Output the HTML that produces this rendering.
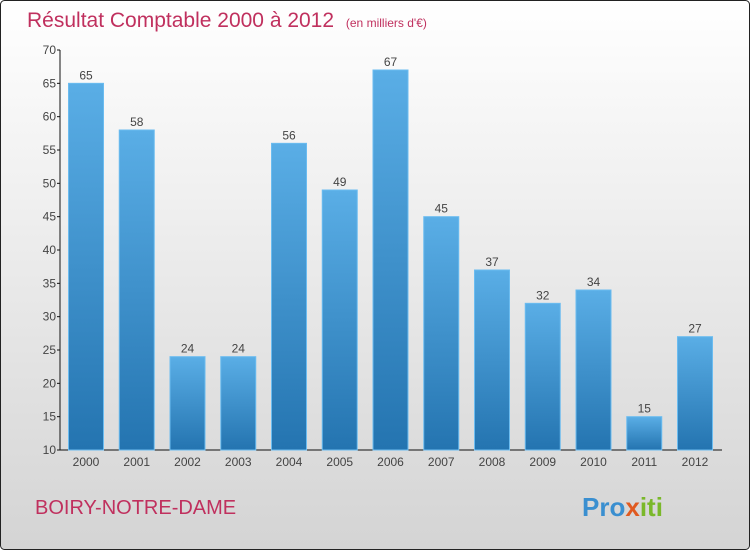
<!DOCTYPE html>
<html><head><meta charset="utf-8"><style>
body{margin:0}
#c{width:750px;height:550px;position:relative;font-family:"Liberation Sans",sans-serif}
</style></head><body>
<div id="c">
<svg width="750" height="550" xmlns="http://www.w3.org/2000/svg">
<defs>
<linearGradient id="bg" x1="0" y1="0" x2="0" y2="1"><stop offset="0" stop-color="#ffffff"/><stop offset="1" stop-color="#d4d4d4"/></linearGradient>
<linearGradient id="bar" x1="0" y1="0" x2="0" y2="1"><stop offset="0" stop-color="#5aaee6"/><stop offset="1" stop-color="#2474b0"/></linearGradient>
</defs>
<rect x="0.5" y="0.5" width="749" height="549" rx="4" fill="url(#bg)" stroke="#222"/>
<text x="27" y="27" font-size="21" fill="#c0305e">Résultat Comptable 2000 à 2012 <tspan font-size="12" dx="6">(en milliers d'€)</tspan></text>
<g id="axes"></g>
<g id="bars"></g>
<text x="35" y="514" font-size="20" fill="#c0305e">BOIRY-NOTRE-DAME</text>
<text x="582" y="516" font-size="26" font-weight="bold"><tspan fill="#3a8fd0">Pro</tspan><tspan fill="#e05a20">x</tspan><tspan fill="#7ab82a">iti</tspan></text>
</svg>
</div>
<script>
const years=["2000","2001","2002","2003","2004","2005","2006","2007","2008","2009","2010","2011","2012"];
const values=[65,58,24,24,56,49,67,45,37,32,34,15,27];
const yTicks=[10,15,20,25,30,35,40,45,50,55,60,65,70];
const ns="http://www.w3.org/2000/svg";
const y0=450,y1=50,vMin=10,vMax=70;
const yS=v=>y0-(v-vMin)*(y0-y1)/(vMax-vMin);
const xC=i=>86+i*50.75;
const bw=35;
function mk(t,a,p){const e=document.createElementNS(ns,t);for(const k in a)e.setAttribute(k,a[k]);p.appendChild(e);return e;}
const ax=document.getElementById('axes'),bg=document.getElementById('bars');
let l=mk('line',{x1:60,y1:50,x2:60,y2:450,stroke:'#111'},ax);


l=mk('line',{x1:60,y1:450,x2:722,y2:450,stroke:'#111'},ax);


yTicks.forEach(v=>{const y=yS(v);
mk('line',{x1:57,y1:y,x2:60,y2:y,stroke:'#111'},ax);
const t=mk('text',{x:56,y:y+4,'font-size':12,fill:'#444','text-anchor':'end'},ax);t.textContent=v;

});
years.forEach((yr,i)=>{const x=xC(i),v=values[i],y=yS(v);
const r=mk('rect',{x:x-bw/2,y:y,width:bw,height:y0-y,fill:'url(#bar)',stroke:'#6bbcf0','stroke-width':1},bg);


const t=mk('text',{x:x,y:y-4,'font-size':12,fill:'#444','text-anchor':'middle'},bg);t.textContent=v;


const xl=mk('text',{x:x,y:466,'font-size':12,fill:'#444','text-anchor':'middle'},ax);xl.textContent=yr;

});
</script>
</body></html>
